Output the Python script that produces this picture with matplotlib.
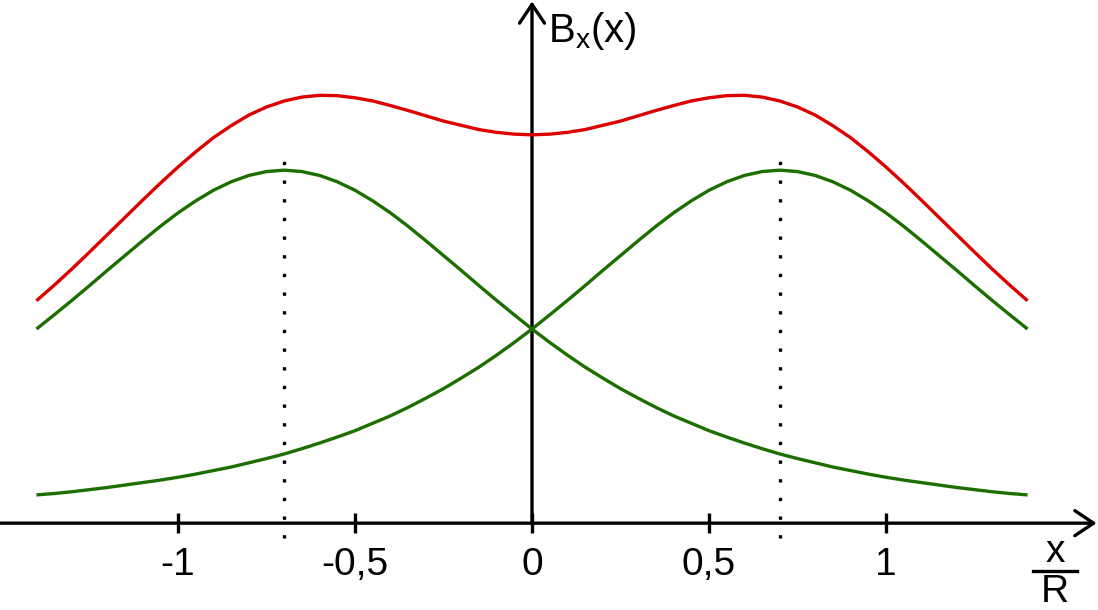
import matplotlib
matplotlib.use("Agg")
import matplotlib.pyplot as plt

plt.rcParams['font.family'] = ['Liberation Sans', 'DejaVu Sans']

# x/R positions and field values (peak of one coil = 1)
x_pos = [-1.40, -1.35, -1.30, -1.25, -1.20, -1.15, -1.10, -1.05, -1.00, -0.95,
         -0.90, -0.85, -0.80, -0.75, -0.70, -0.65, -0.60, -0.55, -0.50, -0.45,
         -0.40, -0.35, -0.30, -0.25, -0.20, -0.15, -0.10, -0.05, 0.00, 0.05,
         0.10, 0.15, 0.20, 0.25, 0.30, 0.35, 0.40, 0.45, 0.50, 0.55,
         0.60, 0.65, 0.70, 0.75, 0.80, 0.85, 0.90, 0.95, 1.00, 1.05,
         1.10, 1.15, 1.20, 1.25, 1.30, 1.35, 1.40]
left_coil = [0.550, 0.590, 0.631, 0.673, 0.716, 0.758, 0.800, 0.841, 0.879, 0.913,
             0.943, 0.967, 0.985, 0.996, 1.000, 0.996, 0.985, 0.967, 0.943, 0.913,
             0.879, 0.841, 0.800, 0.758, 0.716, 0.673, 0.631, 0.590, 0.550, 0.512,
             0.476, 0.442, 0.411, 0.381, 0.354, 0.328, 0.304, 0.283, 0.262, 0.244,
             0.227, 0.211, 0.196, 0.183, 0.171, 0.159, 0.149, 0.139, 0.130, 0.122,
             0.115, 0.108, 0.101, 0.095, 0.089, 0.084, 0.080]
right_coil = left_coil[::-1]
total = [0.630, 0.674, 0.720, 0.768, 0.817, 0.866, 0.915, 0.963, 1.009, 1.052,
         1.092, 1.126, 1.156, 1.179, 1.196, 1.207, 1.212, 1.211, 1.205, 1.196,
         1.183, 1.169, 1.154, 1.139, 1.127, 1.115, 1.107, 1.102, 1.100, 1.102,
         1.107, 1.115, 1.127, 1.139, 1.154, 1.169, 1.183, 1.196, 1.205, 1.211,
         1.212, 1.207, 1.196, 1.179, 1.156, 1.126, 1.092, 1.052, 1.009, 0.963,
         0.915, 0.866, 0.817, 0.768, 0.720, 0.674, 0.630]
coil_positions = [-0.7, 0.7]
tick_values = [-1, -0.5, 0, 0.5, 1]
tick_labels = ['-1', '-0,5', '0', '0,5', '1']

red = '#dc0000'
green = '#1d6e00'
lw = 2.4

fig = plt.figure(figsize=(10.98, 6.10), dpi=100)
ax = fig.add_axes([0, 0, 1, 1])
ax.set_xlim(-1.503, 1.599)
ax.set_ylim(-0.246, 1.482)

# axes through the origin, drawn as arrows
for side in ['top', 'right', 'left']:
    ax.spines[side].set_visible(False)
ax.spines['bottom'].set_position(('data', 0))
ax.spines['bottom'].set_visible(False)
ax.set_yticks([])
ax.set_xticks(tick_values)
ax.set_xticklabels(tick_labels)
ax.tick_params(axis='x', direction='inout', length=15, width=lw, pad=10,
               labelsize=28)

arrow = dict(arrowstyle='->,head_length=0.45,head_width=0.3', lw=lw,
             color='black', mutation_scale=30, shrinkA=0, shrinkB=0)
ax.annotate('', xy=(1.595, 0), xytext=(-1.503, 0), arrowprops=arrow)
ax.annotate('', xy=(0, 1.478), xytext=(0, 0), arrowprops=arrow)

# dotted lines at the coils
ax.vlines(coil_positions, -0.042, 1.057, colors='black', lw=lw,
          linestyles=(0, (1, 4.6)))

ax.plot(x_pos, left_coil, color=green, lw=lw, solid_capstyle='butt', zorder=3)
ax.plot(x_pos, right_coil, color=green, lw=lw, solid_capstyle='butt', zorder=3)
ax.plot(x_pos, total, color=red, lw=lw, solid_capstyle='butt', zorder=3)

# labels
ax.text(0.045, 1.395, r'B$_\mathregular{x}$(x)', fontsize=29, ha='left', va='center')
ax.text(1.477, -0.082, 'x', fontsize=28, ha='center', va='center')
ax.plot([1.415, 1.54], [-0.136, -0.136], color='black', lw=lw)
ax.text(1.477, -0.222, 'R', fontsize=28, ha='center', va='baseline')

fig.savefig('out.png', dpi=100)
